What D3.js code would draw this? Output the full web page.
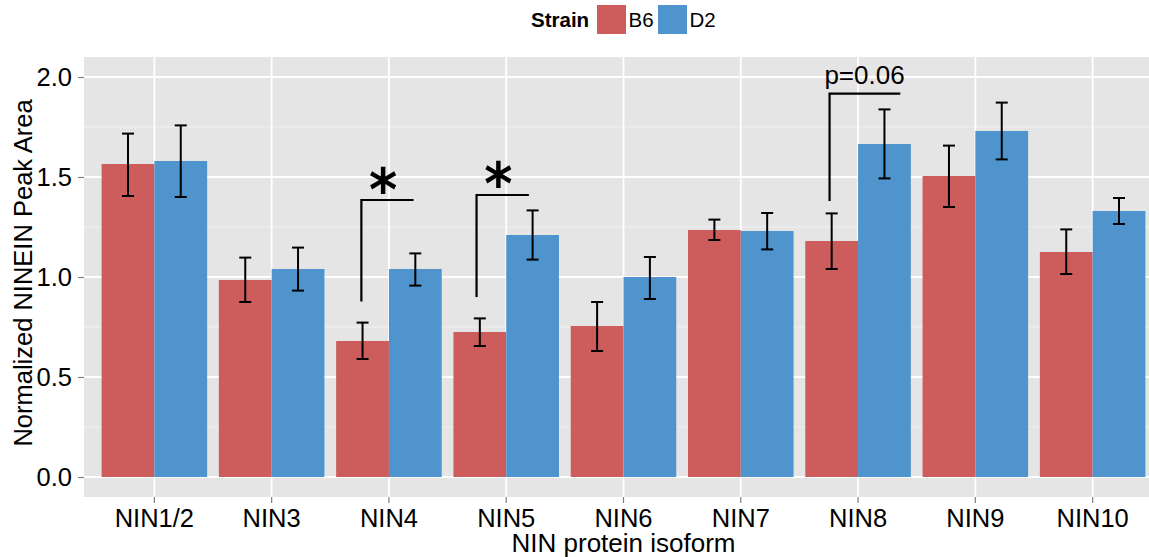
<!DOCTYPE html>
<html>
<head>
<meta charset="utf-8">
<script src="https://cdn.jsdelivr.net/npm/d3@7"></script>
<style>
  html, body { margin: 0; padding: 0; background: #ffffff; }
  svg { display: block; font-family: "Liberation Sans", Arial, Helvetica, sans-serif; }
</style>
</head>
<body>
<svg id="chart" width="1149" height="557"></svg>
<script>
// Isoform categories and strain series
const categories = ["NIN1/2", "NIN3", "NIN4", "NIN5", "NIN6", "NIN7", "NIN8", "NIN9", "NIN10"];
const strains = ["B6", "D2"];

// Mean normalized peak area per isoform
const b6Mean = [1.565, 0.985, 0.68, 0.725, 0.755, 1.235, 1.18, 1.505, 1.125];
const d2Mean = [1.58, 1.04, 1.04, 1.21, 1.0, 1.23, 1.665, 1.73, 1.33];

// Error bar limits (lower / upper)
const b6Low  = [1.405, 0.875, 0.59, 0.655, 0.63, 1.185, 1.04, 1.35, 1.015];
const b6High = [1.717, 1.097, 0.772, 0.793, 0.875, 1.287, 1.318, 1.657, 1.238];
const d2Low  = [1.40, 0.932, 0.957, 1.087, 0.89, 1.138, 1.493, 1.588, 1.265];
const d2High = [1.758, 1.147, 1.118, 1.333, 1.10, 1.32, 1.838, 1.872, 1.395];

// Y axis ticks
const yTicks = [0.0, 0.5, 1.0, 1.5, 2.0];
const yMinor = [0.25, 0.75, 1.25, 1.75];

// Significance brackets: isoform, start / end offsets (in category steps), low / high, label, label offset and height
const bracketCat   = ["NIN4", "NIN5", "NIN8"];
const bracketFrom  = [-0.235, -0.253, -0.243];
const bracketTo    = [0.21, 0.193, 0.36];
const bracketLow   = [0.877, 0.90, 1.38];
const bracketHigh  = [1.385, 1.41, 1.917];
const bracketLabel = ["*", "*", "p=0.06"];
const labelOffset  = [-0.05, -0.066, 0.055];
const labelValue   = [1.49, 1.52, 1.963];

const colors = { B6: "#CD5C5C", D2: "#4F94CD" };

const svg = d3.select("#chart");

// Panel geometry
const panel = { left: 84, right: 1163, top: 57, bottom: 497 };

const x = d3.scaleBand()
  .domain(categories)
  .range([panel.left, panel.right])
  .paddingInner(0.1)
  .paddingOuter(0.15);

const xSub = d3.scaleBand()
  .domain(strains)
  .range([0, x.bandwidth()]);

const y = d3.scaleLinear()
  .domain([-0.1, 2.1])
  .range([panel.bottom, panel.top]);

const step = x.step();
const center = c => x(c) + x.bandwidth() / 2;

// Panel background
svg.append("rect")
  .attr("x", panel.left).attr("y", panel.top)
  .attr("width", panel.right - panel.left)
  .attr("height", panel.bottom - panel.top)
  .attr("fill", "#E5E5E5");

// Grid lines
const grid = svg.append("g");
grid.selectAll("line.minor").data(yMinor).enter().append("line")
  .attr("class", "minor")
  .attr("x1", panel.left).attr("x2", panel.right)
  .attr("y1", d => y(d)).attr("y2", d => y(d))
  .attr("stroke", "#F2F2F2").attr("stroke-width", 0.9);
grid.selectAll("line.majorY").data(yTicks).enter().append("line")
  .attr("class", "majorY")
  .attr("x1", panel.left).attr("x2", panel.right)
  .attr("y1", d => y(d)).attr("y2", d => y(d))
  .attr("stroke", "#FFFFFF").attr("stroke-width", 1.8);
grid.selectAll("line.majorX").data(categories).enter().append("line")
  .attr("class", "majorX")
  .attr("x1", d => center(d)).attr("x2", d => center(d))
  .attr("y1", panel.top).attr("y2", panel.bottom)
  .attr("stroke", "#FFFFFF").attr("stroke-width", 1.8);

// Bars
const rows = [];
categories.forEach((c, i) => {
  rows.push({ cat: c, strain: "B6", mean: b6Mean[i], lo: b6Low[i], hi: b6High[i] });
  rows.push({ cat: c, strain: "D2", mean: d2Mean[i], lo: d2Low[i], hi: d2High[i] });
});

svg.append("g").selectAll("rect").data(rows).enter().append("rect")
  .attr("x", d => x(d.cat) + xSub(d.strain))
  .attr("width", xSub.bandwidth())
  .attr("y", d => y(d.mean))
  .attr("height", d => y(0) - y(d.mean))
  .attr("fill", d => colors[d.strain]);

// Error bars
const capHalf = 6;
const eb = svg.append("g").attr("stroke", "#000").attr("stroke-width", 2);
rows.forEach(d => {
  const cx = x(d.cat) + xSub(d.strain) + xSub.bandwidth() / 2;
  eb.append("line").attr("x1", cx).attr("x2", cx).attr("y1", y(d.lo)).attr("y2", y(d.hi));
  eb.append("line").attr("x1", cx - capHalf).attr("x2", cx + capHalf).attr("y1", y(d.lo)).attr("y2", y(d.lo));
  eb.append("line").attr("x1", cx - capHalf).attr("x2", cx + capHalf).attr("y1", y(d.hi)).attr("y2", y(d.hi));
});

// Significance brackets and labels
const br = svg.append("g");
bracketCat.forEach((c, i) => {
  const x0 = center(c) + bracketFrom[i] * step;
  const x1 = center(c) + bracketTo[i] * step;
  br.append("path")
    .attr("d", `M${x0},${y(bracketLow[i])}V${y(bracketHigh[i])}H${x1}`)
    .attr("fill", "none").attr("stroke", "#000").attr("stroke-width", 2.2);
  const lx = center(c) + labelOffset[i] * step;
  const ly = y(labelValue[i]);
  if (bracketLabel[i] === "*") {
    // asterisk drawn large and centred on its anchor point
    br.append("text")
      .attr("transform", `translate(${lx},${ly}) scale(1,1.1)`)
      .attr("y", 28)
      .attr("text-anchor", "middle")
      .attr("font-family", "DejaVu Sans, sans-serif")
      .attr("font-weight", "bold")
      .attr("font-size", 54)
      .attr("fill", "#000")
      .text(bracketLabel[i]);
  } else {
    br.append("text")
      .attr("x", lx).attr("y", ly)
      .attr("text-anchor", "middle")
      .attr("font-size", 26)
      .attr("fill", "#000")
      .text(bracketLabel[i]);
  }
});

// Axes
const xAxis = svg.append("g")
  .attr("transform", `translate(0,${panel.bottom})`)
  .call(d3.axisBottom(x).tickSize(6).tickPadding(6));
xAxis.select(".domain").remove();
xAxis.selectAll(".tick line").attr("stroke", "#7F7F7F").attr("stroke-width", 1.2);
xAxis.selectAll(".tick text")
  .attr("font-size", 25.5).attr("fill", "#000")
  .attr("font-family", "Liberation Sans, Arial, sans-serif");

const yAxis = svg.append("g")
  .attr("transform", `translate(${panel.left},0)`)
  .call(d3.axisLeft(y).tickValues(yTicks).tickFormat(d3.format(".1f")).tickSize(6).tickPadding(6));
yAxis.select(".domain").remove();
yAxis.selectAll(".tick line").attr("stroke", "#7F7F7F").attr("stroke-width", 1.2);
yAxis.selectAll(".tick text")
  .attr("font-size", 25.5).attr("fill", "#000")
  .attr("font-family", "Liberation Sans, Arial, sans-serif");

// Axis titles
svg.append("text")
  .attr("x", (panel.left + panel.right) / 2)
  .attr("y", 552)
  .attr("text-anchor", "middle")
  .attr("font-size", 26)
  .text("NIN protein isoform");

svg.append("text")
  .attr("transform", "translate(32,273) rotate(-90)")
  .attr("text-anchor", "middle")
  .attr("font-size", 25.5)
  .text("Normalized NINEIN Peak Area");

// Legend
const legend = svg.append("g");
legend.append("text")
  .attr("x", 531).attr("y", 27)
  .attr("font-size", 20.5).attr("font-weight", "bold")
  .text("Strain");
const keyX = [597, 658];
strains.forEach((s, i) => {
  legend.append("rect")
    .attr("x", keyX[i]).attr("y", 5).attr("width", 29).attr("height", 29)
    .attr("fill", colors[s]);
  legend.append("text")
    .attr("x", keyX[i] + 31.5).attr("y", 27)
    .attr("font-size", 20.5)
    .text(s);
});
</script>
</body>
</html>
